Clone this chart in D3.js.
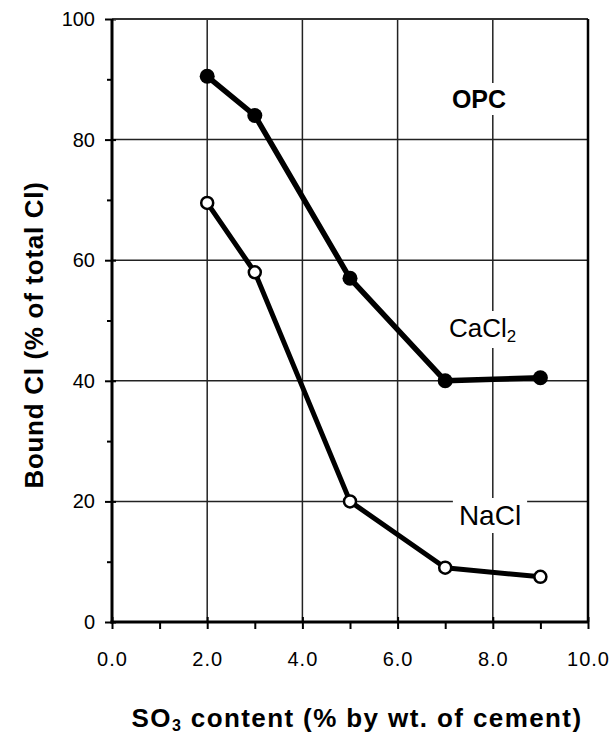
<!DOCTYPE html>
<html><head><meta charset="utf-8">
<script src="https://cdn.jsdelivr.net/npm/d3@7/dist/d3.min.js"></script>
<style>body{margin:0;background:#fff}svg{display:block}</style>
</head><body>
<script>
const so3 = [2, 3, 5, 7, 9];
const cacl2 = [90.5, 84, 57, 40, 40.5];
const nacl = [69.5, 58, 20, 9, 7.5];
const xTicks = [0, 2, 4, 6, 8, 10];
const yTicks = [0, 20, 40, 60, 80, 100];

const W = 612, H = 735;
const m = {left: 112, right: 612 - 588, top: 19, bottom: 735 - 622};
const svg = d3.select("body").append("svg").attr("width", W).attr("height", H);
const x = d3.scaleLinear().domain([0, 10]).range([m.left, W - m.right]);
const y = d3.scaleLinear().domain([0, 100]).range([H - m.bottom, m.top]);
const font = "Liberation Sans, Arial, Helvetica, sans-serif";

// gridlines
const g = svg.append("g");
g.selectAll(".hg").data([20, 40, 60, 80]).join("line")
  .attr("x1", x(0)).attr("x2", x(10)).attr("y1", d => y(d)).attr("y2", d => y(d))
  .attr("stroke", "#222").attr("stroke-width", 1.5);
g.selectAll(".vg").data([2, 4, 6, 8]).join("line")
  .attr("y1", y(0)).attr("y2", y(100)).attr("x1", d => x(d)).attr("x2", d => x(d))
  .attr("stroke", "#222").attr("stroke-width", 1.5);

// axes with ticks
const yAxis = d3.axisLeft(y).tickValues(d3.range(0, 101, 10)).tickSize(6)
  .tickFormat(d => yTicks.includes(d) ? d : "");
const ya = svg.append("g").attr("transform", `translate(${x(0)},0)`).call(yAxis);
ya.select(".domain").remove();
ya.selectAll(".tick line").attr("stroke", "#000").attr("stroke-width", 2)
  .attr("x1", d => yTicks.includes(d) ? 4 : 0).attr("x2", d => yTicks.includes(d) ? -7 : -5);
ya.selectAll(".tick text").attr("font-family", font).attr("font-size", 20).attr("fill", "#000").attr("x", -17);

const xAxis = d3.axisBottom(x).tickValues(d3.range(0, 11, 1)).tickSize(6)
  .tickFormat(d => xTicks.includes(d) ? d3.format(".1f")(d) : "");
const xa = svg.append("g").attr("transform", `translate(0,${y(0)})`).call(xAxis);
xa.select(".domain").remove();
xa.selectAll(".tick line").attr("stroke", "#000").attr("stroke-width", 2)
  .attr("y1", d => xTicks.includes(d) ? -5 : 0).attr("y2", 7);
xa.selectAll(".tick text").attr("font-family", font).attr("font-size", 20)
  .attr("letter-spacing", 1).attr("fill", "#000").attr("y", 30);

// frame
svg.append("line").attr("x1", x(0)).attr("x2", x(10)).attr("y1", y(100)).attr("y2", y(100)).attr("stroke", "#333").attr("stroke-width", 2);
svg.append("line").attr("x1", x(10)).attr("x2", x(10)).attr("y1", y(0)).attr("y2", y(100)).attr("stroke", "#000").attr("stroke-width", 2.5);
svg.append("line").attr("x1", x(0)).attr("x2", x(0)).attr("y1", y(0) + 1.5).attr("y2", y(100)).attr("stroke", "#000").attr("stroke-width", 3);
svg.append("line").attr("x1", x(0) - 1.5).attr("x2", x(10) + 1).attr("y1", y(0)).attr("y2", y(0)).attr("stroke", "#000").attr("stroke-width", 3);

// labels with white background
const lab = svg.append("g");
function label(txt, px, py, size, bold, anchor, sub) {
  const grp = lab.append("g");
  const bg = grp.append("rect").attr("fill", "#fff");
  const t = grp.append("text").attr("x", px).attr("y", py).attr("text-anchor", anchor)
    .attr("font-family", font).attr("font-size", size)
    .attr("font-weight", bold ? "bold" : "normal").attr("fill", "#000");
  t.append("tspan").text(txt);
  if (sub) t.append("tspan").attr("font-size", size * 0.65).attr("dy", 5).text(sub);
  const b = t.node().getBBox();
  bg.attr("x", b.x - 6).attr("y", b.y - 2).attr("width", b.width + 12).attr("height", b.height + 4);
}
label("OPC", 479, 108, 25, true, "middle");
label("CaCl", 449, 337, 26, false, "start", "2");
label("NaCl", 490, 525, 28, false, "middle");

// series
const line = d3.line().x(d => x(d[0])).y(d => y(d[1]));
const s1 = so3.map((v, i) => [v, cacl2[i]]);
const s2 = so3.map((v, i) => [v, nacl[i]]);
svg.append("path").attr("d", line(s1)).attr("fill", "none").attr("stroke", "#000").attr("stroke-width", 5.5).attr("stroke-linejoin", "round");
svg.append("path").attr("d", line(s2)).attr("fill", "none").attr("stroke", "#000").attr("stroke-width", 5).attr("stroke-linejoin", "round");
svg.selectAll(".f").data(s1).join("circle").attr("cx", d => x(d[0])).attr("cy", d => y(d[1]))
  .attr("r", 7.5).attr("fill", "#000");
svg.selectAll(".o").data(s2).join("circle").attr("cx", d => x(d[0])).attr("cy", d => y(d[1]))
  .attr("r", 6).attr("fill", "#fff").attr("stroke", "#000").attr("stroke-width", 2.5);

// axis titles
const xt = svg.append("text").attr("x", 357).attr("y", 727).attr("text-anchor", "middle")
  .attr("font-family", font).attr("font-size", 26).attr("font-weight", "bold")
  .attr("letter-spacing", 1.4).attr("fill", "#000");
xt.append("tspan").text("SO");
xt.append("tspan").attr("font-size", 16).attr("dy", 4).text("3");
xt.append("tspan").attr("dy", -4).text(" content (% by wt. of cement)");
svg.append("text").attr("transform", `translate(43,335) rotate(-90)`)
  .attr("text-anchor", "middle").attr("font-family", font).attr("font-size", 26)
  .attr("letter-spacing", 0.7).attr("font-weight", "bold").attr("fill", "#000").text("Bound Cl (% of total Cl)");
</script>
</body></html>
